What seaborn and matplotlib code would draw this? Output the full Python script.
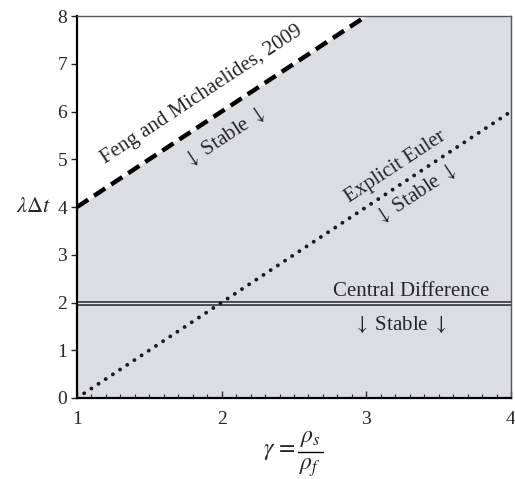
import numpy as np
import pandas as pd
import matplotlib
matplotlib.use("Agg")
import matplotlib.pyplot as plt
import seaborn as sns
from matplotlib.ticker import MultipleLocator
from matplotlib.lines import Line2D

# Data
gamma_feng = [1.0, 3.0]
lam_feng = [4.0, 8.0]
gamma_fill = [1.0, 3.0, 4.0]
lam_fill = [4.0, 8.0, 8.0]
gamma_euler = [1.0, 4.0]
lam_euler = [0.0, 6.0]
gamma_cd = [1.0, 4.0]
lam_cd = [2.0, 2.0]
x_ticks = [1, 2, 3, 4]
y_ticks = [0, 1, 2, 3, 4, 5, 6, 7, 8]

sns.set_theme(style="white")
plt.rcParams['font.family'] = ['Liberation Serif', 'DejaVu Serif']
plt.rcParams['mathtext.fontset'] = 'stix'

W, H = 515, 479
fig = plt.figure(figsize=(W/100, H/100), dpi=100)
ax = fig.add_axes([77/W, 1-398/H, 434/W, 382/H])

ax.fill_between(gamma_fill, 0, lam_fill, color='#dcdde0', lw=0, zorder=0)

df_feng = pd.DataFrame({'g': gamma_feng, 'l': lam_feng})
df_eul = pd.DataFrame({'g': gamma_euler, 'l': lam_euler})
df_cd = pd.DataFrame({'g': gamma_cd, 'l': lam_cd})

sns.lineplot(data=df_feng, x='g', y='l', ax=ax, color='black', lw=3.2,
             linestyle=(0, (3, 1.6)), zorder=3)
sns.lineplot(data=df_eul, x='g', y='l', ax=ax, color='#1a1a1a', lw=2.8,
             linestyle=(0, (0.01, 2.2)), zorder=3)
ax.lines[-1].set_dash_capstyle('round')
sns.lineplot(data=df_cd, x='g', y='l', ax=ax, color='#333333', lw=3.4, zorder=2)
sns.lineplot(data=df_cd, x='g', y='l', ax=ax, color='#e8e8e8', lw=1.0, zorder=2)

ax.set_xlim(1, 4)
ax.set_ylim(0, 8)
ax.set_xticks(x_ticks)
ax.set_yticks(y_ticks)
ax.xaxis.set_minor_locator(MultipleLocator(0.1))
ax.tick_params(axis='x', which='major', direction='in', length=5, width=1,
               labelsize=14, pad=9, bottom=True)
ax.tick_params(axis='x', which='minor', direction='in', length=3, width=0.8, bottom=True)
ax.tick_params(axis='y', which='major', direction='out', length=4, width=1,
               labelsize=14, pad=3, left=True)
ax.set_xlabel('')
ax.set_ylabel('')

for s in ['left', 'bottom']:
    ax.spines[s].set_color('black')
    ax.spines[s].set_linewidth(1.6)
for s in ['top', 'right']:
    ax.spines[s].set_color('#555555')
    ax.spines[s].set_linewidth(1.0)

fs = 15
arrow = r'$\downarrow$'
stable = f'{arrow} Stable {arrow}'
ax.text(1.86, 6.36, 'Feng and Michaelides, 2009', rotation=33.4, rotation_mode='anchor',
        ha='center', va='center', fontsize=fs)
ax.text(2.02, 5.45, stable, rotation=33.4, rotation_mode='anchor',
        ha='center', va='center', fontsize=fs)
ax.text(3.20, 4.84, 'Explicit Euler', rotation=33.4, rotation_mode='anchor',
        ha='center', va='center', fontsize=fs)
ax.text(3.34, 4.26, stable, rotation=33.4, rotation_mode='anchor',
        ha='center', va='center', fontsize=fs)
ax.text(3.31, 2.22, 'Central Difference', ha='center', va='center', fontsize=fs)
ax.text(3.23, 1.53, stable, ha='center', va='center', fontsize=fs)

fig.text(34/W, 1-207/H, r'$\lambda\Delta t$', ha='center', va='center', fontsize=16)

# x label: gamma = rho_s / rho_f
fig.text(279/W, 1-451/H, r'$\gamma\,=$', ha='center', va='center', fontsize=17)
fig.text(310/W, 1-449/H, r'$\rho_s$', ha='center', va='bottom', fontsize=17)
fig.text(310/W, 1-456/H, r'$\rho_f$', ha='center', va='top', fontsize=17)
fig.add_artist(Line2D([298/W, 323/W], [1-452/H, 1-452/H], transform=fig.transFigure,
                      color='black', lw=1.0))

fig.savefig('out.png', dpi=100)
